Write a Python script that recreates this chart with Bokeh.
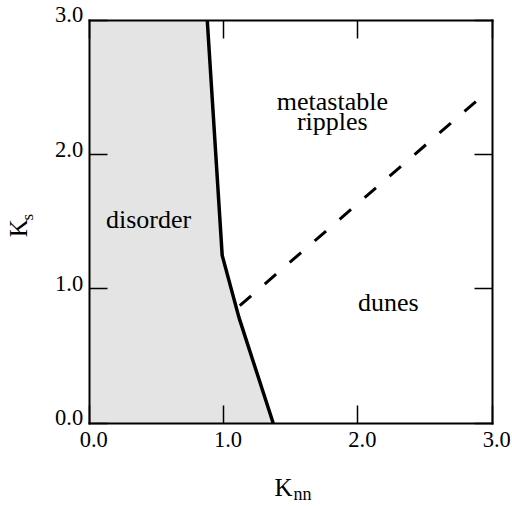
from bokeh.plotting import figure
from bokeh.models import Range1d, FixedTicker, LinearAxis
from bokeh.core.properties import value
from bokeh.embed import file_html
from bokeh.resources import INLINE
import math

# ---- data ----
ticks = [0, 1, 2, 3]
tick_labels = ["0.0", "1.0", "2.0", "3.0"]

# solid phase boundary (disorder / ordered)
boundary_x = [0.879, 0.99, 1.114, 1.37]
boundary_y = [3.0, 1.25, 0.79, 0.0]

# dashed boundary (metastable ripples / dunes)
dashed_x = [1.121, 2.914]
dashed_y = [0.876, 2.427]

region_names = ["disorder", "metastable", "ripples", "dunes"]
region_x = [0.4415, 1.81, 1.81, 2.226]
region_y = [1.45, 2.328, 2.178, 0.832]

FONT = "Liberation Serif"
SHIFT = 0.36   # baseline correction (fraction of font size)

# ---- geometry (pixels) ----
W, H = 512, 506
MB = 2                     # border around frame
BOX_L, BOX_R = 88.7, 491.7  # where x=0 and x=3 fall
BOX_T, BOX_B = 20.0, 422.7  # where y=3 and y=0 fall
sx = (BOX_R - BOX_L) / 3.0
sy = (BOX_B - BOX_T) / 3.0
x0 = (MB - BOX_L) / sx
x1 = 3 + (W - MB - BOX_R) / sx
y0 = -(H - MB - BOX_B) / sy
y1 = 3 + (BOX_T - MB) / sy

p = figure(width=W, height=H, output_backend="svg", toolbar_location=None,
           x_range=Range1d(x0, x1), y_range=Range1d(y0, y1),
           x_axis_location=None, y_axis_location=None,
           min_border_left=MB, min_border_right=MB, min_border_top=MB, min_border_bottom=MB)
p.grid.visible = False
p.outline_line_color = None
p.background_fill_color = "white"
p.border_fill_color = "white"

# box axes with inside ticks, fixed at the data limits
for loc, fixed in [("below", 0), ("left", 0), ("above", 3), ("right", 3)]:
    ax = LinearAxis(ticker=FixedTicker(ticks=ticks), fixed_location=fixed, bounds=(0, 3),
                    major_tick_in=18, major_tick_out=0,
                    minor_tick_in=0, minor_tick_out=0,
                    major_tick_line_width=1.5, major_tick_line_color="black",
                    axis_line_color="black", axis_line_width=2, axis_line_cap="square",
                    major_label_overrides={t: "" for t in ticks},
                    major_label_standoff=0,
                    major_label_text_font_size="0px")
    p.add_layout(ax, loc)

# gray disorder region
fill_x = [0, 0] + boundary_x
fill_y = [0, 3] + boundary_y
p.patch(fill_x, fill_y, fill_color="#e4e4e4", line_color=None)

p.line(boundary_x, boundary_y, line_color="black", line_width=3.5, line_join="round")
p.line(dashed_x, dashed_y, line_color="black", line_width=3, line_dash="15 18")


def txt(x, y, text, fs, dx=0.0, dy=0.0, align="left", angle=0.0):
    if angle:
        dx -= SHIFT * fs
    else:
        dy -= SHIFT * fs
    p.text(x=x, y=y, text=text, x_offset=dx, y_offset=dy, angle=angle,
           text_font=value(FONT), text_font_size=f"{fs}px", text_align=align,
           text_baseline="alphabetic", text_color="black")


# region labels
txt(region_x, region_y, region_names, 26, align="center")

# tick labels
txt(ticks, [0] * len(ticks), tick_labels, 22.5, dx=4.5, dy=24, align="center")
txt([0] * len(ticks), ticks, tick_labels, 22.5, dx=-6, dy=2.5, align="right")

# axis titles
txt([1.5], [0], ["K"], 25, dx=-16.2, dy=73.3)
txt([1.5], [0], ["nn"], 18, dx=2.8, dy=77.3)
txt([0], [1.5], ["K"], 25, dx=-61.7, dy=15.35, angle=math.pi / 2)
txt([0], [1.5], ["s"], 17, dx=-55.7, dy=-1.35, angle=math.pi / 2)

open("out.html", "w").write(file_html(p, INLINE))
